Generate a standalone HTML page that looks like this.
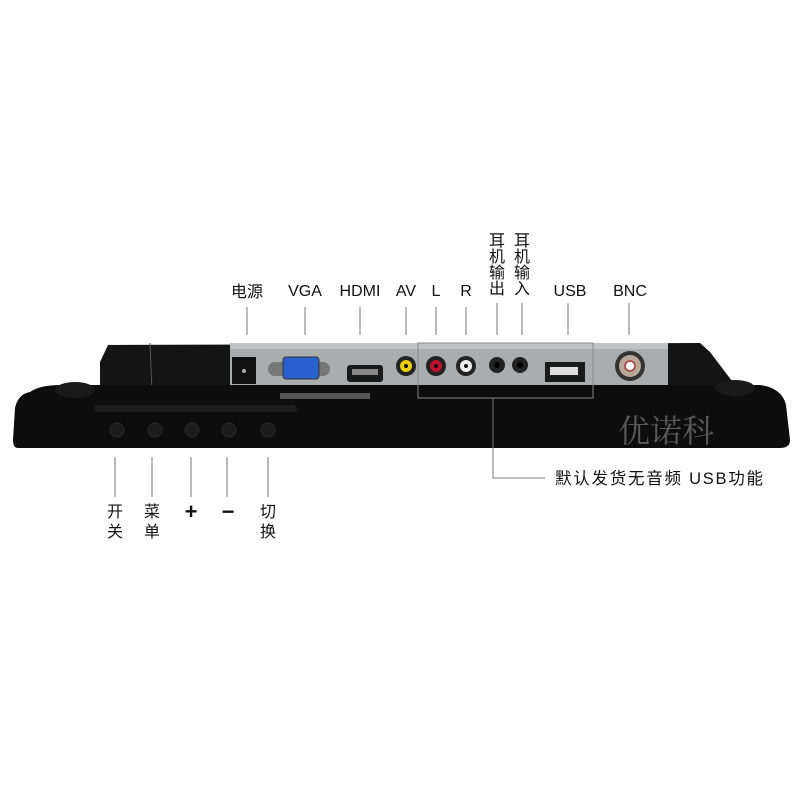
<!DOCTYPE html>
<html><head><meta charset="utf-8"><style>
html,body{margin:0;padding:0;background:#fff;}
svg text{font-family:"Liberation Sans","Noto Sans CJK SC",sans-serif;fill:#111;}
</style></head><body>
<svg width="800" height="800" viewBox="0 0 800 800" xmlns="http://www.w3.org/2000/svg">
<rect width="800" height="800" fill="#fff"/>
<path d="M100 362 L108 345 L700 343 L710 352 L735 385 L100 390 Z" fill="#141414"/>
<path d="M150 343 L152 392" stroke="#555" stroke-width="1"/>
<rect x="230" y="343" width="438" height="50" fill="#a9adae"/>
<rect x="230" y="343" width="438" height="6" fill="#c0c3c4"/>
<path d="M30 392 Q40 385 60 385 L760 385 Q782 388 786 405 L790 440 Q790 448 780 448 L18 448 Q13 448 13 440 L15 408 Q18 394 30 392 Z" fill="#0d0d0d"/>
<ellipse cx="75" cy="390" rx="20" ry="8" fill="#1a1a1a"/>
<ellipse cx="735" cy="388" rx="20" ry="8" fill="#1a1a1a"/>
<path d="M95 405 L295 405 L298 412 L95 412 Z" fill="#1c1c1c"/>
<rect x="232" y="357" width="24" height="27" fill="#111"/>
<circle cx="244" cy="371" r="2" fill="#aaa"/>
<rect x="268" y="362" width="62" height="14" rx="7" fill="#777"/>
<rect x="283" y="357" width="36" height="22" rx="3" fill="#2a5fd0" stroke="#333"/>
<rect x="347" y="365" width="36" height="17" rx="3" fill="#1a1a1a"/>
<rect x="352" y="369" width="26" height="6" fill="#888"/>
<circle cx="406" cy="366" r="10" fill="#222"/><circle cx="406" cy="366" r="6" fill="#e8d000"/><circle cx="406" cy="366" r="2" fill="#111"/>
<circle cx="436" cy="366" r="10" fill="#222"/><circle cx="436" cy="366" r="6" fill="#c0102a"/><circle cx="436" cy="366" r="2" fill="#111"/>
<circle cx="466" cy="366" r="10" fill="#222"/><circle cx="466" cy="366" r="6" fill="#eee"/><circle cx="466" cy="366" r="2" fill="#111"/>
<circle cx="497" cy="365" r="8" fill="#222"/><circle cx="497" cy="365" r="3" fill="#000"/>
<circle cx="520" cy="365" r="8" fill="#222"/><circle cx="520" cy="365" r="3" fill="#000"/>
<rect x="545" y="362" width="40" height="20" fill="#1a1a1a"/>
<rect x="550" y="367" width="28" height="8" fill="#ddd"/>
<circle cx="630" cy="366" r="15" fill="#333"/><circle cx="630" cy="366" r="11" fill="#b8a898"/><circle cx="630" cy="366" r="5" fill="#fff" stroke="#a55" stroke-width="2"/>
<rect x="280" y="393" width="90" height="6" fill="#555"/>
<rect x="418" y="343" width="175" height="55" fill="none" stroke="#888"/>
<g fill="#1c1c1c" stroke="#2a2a2a">
<circle cx="117" cy="430" r="7"/><circle cx="155" cy="430" r="7"/><circle cx="192" cy="430" r="7"/><circle cx="229" cy="430" r="7"/><circle cx="268" cy="430" r="7"/>
</g>
<text x="618" y="442" font-size="32" style="fill:#5a5a5a;font-family:'Noto Serif CJK SC',serif">优诺科</text>
<g stroke="#777" stroke-width="1">
<line x1="247" y1="307" x2="247" y2="335"/><line x1="305" y1="307" x2="305" y2="335"/>
<line x1="360" y1="307" x2="360" y2="335"/><line x1="406" y1="307" x2="406" y2="335"/>
<line x1="436" y1="307" x2="436" y2="335"/><line x1="466" y1="307" x2="466" y2="335"/>
<line x1="497" y1="303" x2="497" y2="335"/><line x1="522" y1="303" x2="522" y2="335"/>
<line x1="568" y1="303" x2="568" y2="335"/><line x1="629" y1="303" x2="629" y2="335"/>
<line x1="115" y1="457" x2="115" y2="497"/><line x1="152" y1="457" x2="152" y2="497"/>
<line x1="191" y1="457" x2="191" y2="497"/><line x1="227" y1="457" x2="227" y2="497"/>
<line x1="268" y1="457" x2="268" y2="497"/>
<polyline points="493,398 493,478 545,478" fill="none"/>
</g>
<g font-size="16" text-anchor="middle">
<text x="247" y="297">电源</text><text x="305" y="296">VGA</text><text x="360" y="296">HDMI</text>
<text x="406" y="296">AV</text><text x="436" y="296">L</text><text x="466" y="296">R</text>
<text x="570" y="296">USB</text><text x="630" y="296">BNC</text>
<text x="497" y="246">耳</text><text x="497" y="262">机</text><text x="497" y="278">输</text><text x="497" y="294">出</text>
<text x="522" y="246">耳</text><text x="522" y="262">机</text><text x="522" y="278">输</text><text x="522" y="294">入</text>
<text x="115" y="517">开</text><text x="115" y="537">关</text>
<text x="152" y="517">菜</text><text x="152" y="537">单</text>
<text x="191" y="519" font-size="22" font-weight="bold">+</text><text x="228" y="519" font-size="22" font-weight="bold">−</text>
<text x="268" y="517">切</text><text x="268" y="537">换</text>
</g>
<text x="555" y="484" font-size="16.5" textLength="208">默认发货无音频 USB功能</text>
</svg>
</body></html>
